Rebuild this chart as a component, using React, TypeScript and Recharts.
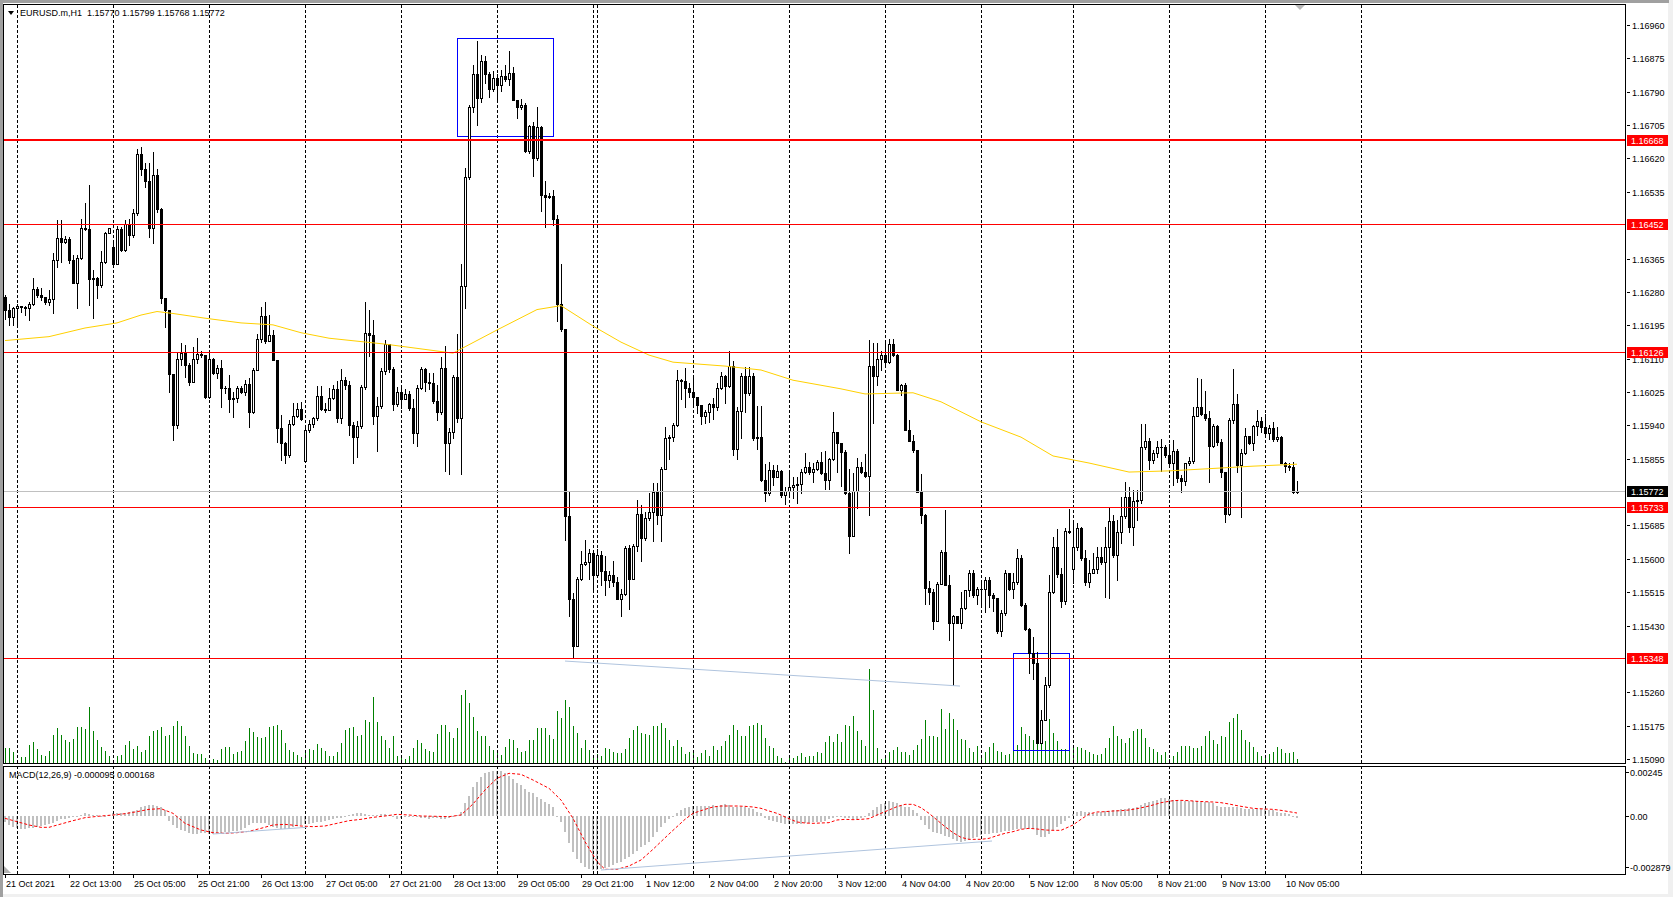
import React from 'react'
import { ComposedChart, Bar, Line, XAxis, YAxis, ReferenceLine, ReferenceArea } from 'recharts'

const FONT = "Tahoma, 'Liberation Sans', Arial, sans-serif"

// prices are kept as points above 1.15000 (1 point = 0.00001)
const BASE = 1.15
const firstOpen = 1268
const gapOpens: Record<number, number> = { 27: 1394, 75: 850, 267: 573 }

const closePts = [
  1234, 1215, 1238, 1245, 1242, 1238, 1249, 1287, 1272, 1268,
  1253, 1261, 1361, 1418, 1406, 1416, 1361, 1303, 1367, 1442,
  1440, 1314, 1315, 1298, 1357, 1429, 1442, 1350, 1439, 1387,
  1452, 1425, 1480, 1631, 1592, 1563, 1442, 1578, 1491, 1264,
  1234, 1072, 941, 1108, 1125, 1094, 1051, 1108, 1123, 1118,
  1013, 1108, 1074, 1085, 1034, 1036, 1006, 1009, 1034, 1026,
  1045, 975, 1081, 1159, 1219, 1156, 1170, 1107, 932, 896,
  864, 943, 965, 981, 955, 928, 943, 958, 1016, 981,
  979, 1009, 1032, 959, 1056, 1042, 942, 910, 938, 1037,
  1176, 1169, 964, 990, 1079, 1146, 1084, 994, 1024, 1006,
  1019, 983, 920, 1035, 1084, 1051, 1048, 1003, 975, 1086,
  894, 923, 1063, 959, 1295, 1573, 1750, 1835, 1773, 1869,
  1836, 1796, 1825, 1807, 1831, 1822, 1838, 1768, 1750, 1757,
  1640, 1703, 1622, 1701, 1526, 1523, 1525, 1466, 1248, 1186,
  708, 497, 379, 549, 588, 592, 616, 559, 609, 569,
  546, 559, 540, 497, 510, 628, 548, 632, 715, 652,
  704, 720, 769, 712, 830, 909, 911, 940, 1055, 1054,
  1034, 1026, 1011, 991, 965, 974, 994, 986, 1034, 1066,
  1040, 1091, 881, 977, 1066, 1022, 1066, 907, 911, 802,
  767, 826, 809, 824, 762, 773, 784, 788, 790, 822,
  833, 822, 828, 846, 819, 802, 853, 922, 896, 873,
  767, 659, 773, 835, 822, 812, 1091, 1066, 1108, 1119,
  1102, 1147, 1119, 1030, 1043, 928, 901, 876, 771, 711,
  525, 516, 442, 537, 618, 533, 436, 454, 437, 474,
  520, 565, 507, 522, 524, 546, 508, 499, 417, 461,
  563, 522, 540, 601, 482, 420, 359, 334, 131, 189,
  278, 516, 629, 561, 493, 672, 669, 631, 678, 601,
  542, 565, 573, 605, 593, 631, 697, 610, 669, 709,
  758, 682, 746, 750, 884, 901, 852, 869, 884, 886,
  864, 845, 875, 805, 797, 843, 849, 964, 986, 968,
  960, 887, 938, 898, 820, 714, 954, 994, 839, 869,
  913, 896, 938, 952, 935, 920, 932, 904, 911, 845,
  836, 835, 770, 772,
]

const highPts = [
  1272, 1249, 1242, 1249, 1245, 1244, 1255, 1315, 1293, 1289,
  1268, 1285, 1378, 1463, 1463, 1422, 1421, 1374, 1374, 1467,
  1506, 1552, 1336, 1319, 1383, 1433, 1444, 1404, 1449, 1446,
  1463, 1465, 1490, 1643, 1648, 1609, 1609, 1637, 1592, 1493,
  1264, 1234, 1072, 1125, 1149, 1145, 1098, 1139, 1163, 1130,
  1118, 1132, 1111, 1094, 1106, 1039, 1068, 1026, 1039, 1039,
  1056, 1060, 1085, 1174, 1241, 1253, 1221, 1183, 1107, 966,
  898, 954, 996, 998, 1000, 932, 954, 962, 1039, 1039,
  996, 1034, 1042, 1053, 1084, 1063, 1053, 949, 951, 1042,
  1253, 1235, 1209, 1011, 1086, 1157, 1148, 1089, 1037, 1042,
  1032, 1027, 1006, 1042, 1089, 1086, 1074, 1074, 1042, 1115,
  1141, 933, 1068, 1172, 1352, 1596, 1755, 1859, 1918, 1883,
  1880, 1841, 1843, 1835, 1845, 1859, 1893, 1854, 1765, 1771,
  1760, 1706, 1713, 1752, 1703, 1562, 1533, 1540, 1476, 1352,
  1186, 772, 512, 554, 621, 647, 626, 616, 626, 621,
  606, 569, 595, 554, 522, 632, 635, 637, 751, 736,
  720, 767, 792, 794, 835, 935, 915, 945, 1081, 1057,
  1085, 1049, 1064, 1013, 989, 979, 998, 1009, 1047, 1077,
  1068, 1130, 1105, 986, 1073, 1088, 1088, 1074, 989, 989,
  841, 847, 838, 838, 826, 784, 819, 809, 809, 828,
  869, 847, 843, 852, 873, 875, 856, 973, 924, 894,
  877, 830, 818, 856, 847, 867, 1157, 1149, 1149, 1130,
  1157, 1159, 1159, 1122, 1045, 1049, 953, 915, 875, 816,
  714, 544, 522, 542, 622, 724, 559, 457, 453, 516,
  520, 571, 571, 527, 546, 553, 553, 514, 499, 469,
  571, 565, 565, 624, 610, 488, 423, 400, 363, 215,
  300, 559, 656, 675, 576, 678, 726, 694, 692, 682,
  622, 597, 615, 629, 631, 682, 733, 711, 699, 758,
  796, 784, 775, 775, 943, 943, 907, 877, 901, 904,
  890, 892, 903, 881, 813, 843, 860, 987, 1060, 1057,
  1028, 977, 943, 940, 904, 822, 958, 1083, 1021, 880,
  932, 913, 942, 979, 962, 970, 941, 949, 936, 913,
  847, 845, 847, 799,
]

const lowPts = [
  1210, 1196, 1196, 1196, 1230, 1221, 1208, 1247, 1268, 1259,
  1249, 1247, 1225, 1344, 1357, 1404, 1354, 1303, 1238, 1365,
  1438, 1247, 1213, 1264, 1293, 1353, 1429, 1349, 1361, 1383,
  1383, 1400, 1421, 1476, 1578, 1548, 1421, 1405, 1484, 1251,
  1191, 1026, 903, 932, 1094, 1062, 1043, 1056, 1098, 1115,
  1009, 1009, 1072, 1060, 988, 1022, 975, 962, 1000, 1022,
  1017, 937, 971, 1081, 1153, 1149, 1157, 1107, 898, 852,
  843, 860, 941, 962, 954, 847, 924, 937, 954, 979,
  975, 983, 1006, 949, 947, 1032, 916, 843, 860, 933,
  1032, 1117, 944, 874, 985, 1072, 1076, 980, 990, 985,
  1006, 980, 895, 887, 1032, 1027, 1032, 996, 954, 970,
  824, 816, 907, 949, 816, 1238, 1568, 1739, 1705, 1765,
  1812, 1776, 1791, 1765, 1791, 1817, 1807, 1768, 1724, 1745,
  1637, 1635, 1576, 1617, 1487, 1445, 1519, 1450, 1207, 1180,
  647, 455, 346, 377, 545, 585, 548, 524, 564, 533,
  509, 528, 531, 497, 455, 507, 471, 548, 621, 595,
  649, 699, 646, 689, 646, 828, 855, 900, 938, 1007,
  988, 1011, 988, 971, 943, 945, 949, 956, 979, 1032,
  996, 1037, 864, 855, 907, 975, 1017, 903, 881, 799,
  746, 762, 788, 808, 758, 740, 758, 754, 743, 767,
  819, 815, 796, 826, 816, 779, 779, 852, 822, 785,
  765, 616, 661, 729, 818, 809, 712, 947, 1043, 1081,
  1090, 1100, 1117, 1030, 1017, 928, 901, 873, 771, 692,
  485, 485, 420, 451, 536, 533, 393, 278, 436, 423,
  471, 505, 503, 485, 482, 465, 478, 468, 410, 403,
  457, 520, 499, 537, 480, 419, 308, 295, 130, 130,
  189, 274, 514, 554, 478, 486, 667, 539, 622, 597,
  533, 527, 563, 565, 588, 503, 499, 605, 546, 639,
  703, 669, 635, 700, 743, 881, 830, 843, 860, 824,
  860, 841, 788, 796, 771, 788, 839, 843, 964, 966,
  953, 796, 886, 890, 809, 694, 712, 945, 822, 707,
  867, 892, 877, 915, 924, 918, 904, 901, 901, 843,
  822, 826, 767, 768,
]

// tick volume
const volumes = [
  920, 920, 640, 200, 360, 380, 1080, 1260, 840, 500,
  440, 740, 1700, 2120, 1680, 1380, 1240, 1460, 2180, 2180,
  2040, 3380, 1900, 1400, 940, 740, 440, 140, 440, 500,
  1100, 1340, 860, 1000, 640, 760, 1640, 1940, 1960, 2140,
  1600, 1700, 2200, 2540, 2220, 1600, 1000, 600, 560, 560,
  300, 200, 240, 160, 860, 960, 980, 560, 640, 700,
  1300, 2120, 1840, 1540, 1480, 1540, 2180, 2240, 2300, 2000,
  1180, 800, 660, 500, 380, 640, 860, 800, 1160, 900,
  700, 440, 400, 640, 1200, 2000, 2100, 2140, 1640, 1700,
  2560, 2440, 3980, 2440, 1640, 1400, 900, 1600, 400, 300,
  240, 400, 900, 1400, 1200, 840, 720, 680, 1760, 2260,
  2300, 1840, 1500, 2120, 4080, 4400, 3580, 2760, 1920, 1600,
  1600, 1000, 760, 680, 460, 960, 1460, 1400, 900, 640,
  700, 1360, 1400, 2120, 2100, 2120, 1700, 1440, 3140, 2720,
  3780, 3360, 2240, 1800, 880, 1400, 760, 440, 540, 400,
  900, 840, 680, 600, 600, 840, 1480, 1960, 2200, 1780,
  1720, 1680, 2200, 2200, 2420, 2080, 1400, 1040, 1400, 940,
  540, 640, 640, 340, 600, 760, 440, 1000, 760, 1040,
  1300, 1700, 2300, 1960, 1640, 1640, 2240, 2300, 2400, 2300,
  1500, 1000, 900, 400, 300, 40, 300, 300, 440, 600,
  340, 400, 440, 640, 600, 1240, 1600, 1240, 1760, 1240,
  2300, 2200, 2800, 1900, 1360, 1000, 5660, 3200, 900, 240,
  400, 640, 800, 960, 640, 640, 500, 800, 1100, 1460,
  2560, 1640, 1600, 1560, 3260, 2040, 3000, 2640, 1960, 1440,
  1400, 900, 640, 1000, 400, 640, 960, 1200, 700, 640,
  500, 560, 800, 1100, 2140, 1760, 1600, 1360, 3200, 2700,
  1300, 2640, 1800, 1340, 840, 840, 700, 960, 960, 900,
  760, 640, 540, 500, 560, 900, 1500, 2240, 1640, 1440,
  1200, 1500, 1900, 2040, 2040, 1500, 940, 840, 640, 500,
  640, 240, 400, 640, 1040, 1040, 1040, 900, 900, 1040,
  1600, 1900, 1400, 1160, 1600, 1560, 2440, 2700, 2960, 2000,
  1400, 1240, 940, 640, 400, 300, 560, 640, 960, 840,
  600, 600, 640, 240,
]

// MACD main line, millionths
const macdMain = [
  -319, -507, -601, -694, -732, -732, -694, -657, -601, -563,
  -507, -450, -375, -263, -188, -150, -94, -75, -38, 38,
  150, 94, 56, 38, 19, 5, 56, 150, 150, 188,
  188, 225, 282, 338, 526, 582, 619, 619, 582, 526,
  338, -263, -507, -657, -788, -845, -939, -1014, -1014, -976,
  -939, -1014, -1014, -976, -939, -882, -882, -845, -826, -788,
  -694, -507, -413, -375, -413, -413, -507, -601, -694, -732,
  -751, -713, -638, -563, -507, -469, -450, -413, -357, -319,
  -282, -225, -188, -131, -94, -38, 56, 94, 150, 188,
  113, 38, 56, 75, 94, 94, 38, -38, -150, -94,
  -38, -19, -38, -56, -94, -131, -169, -131, -94, -150,
  -188, -131, -38, 56, 244, 713, 1145, 1652, 1896, 2215,
  2403, 2496, 2534, 2553, 2534, 2440, 2271, 2083, 1877, 1746,
  1502, 1370, 1276, 1089, 939, 807, 676, 526, 19, -319,
  -882, -1539, -2008, -2440, -2665, -2853, -3003, -3041, -3041, -3003,
  -2947, -2891, -2759, -2665, -2571, -2440, -2290, -2140, -1952, -1764,
  -1633, -1445, -1164, -882, -601, -375, -188, 10, 150, 338,
  469, 526, 563, 582, 582, 563, 563, 601, 563, 619,
  676, 619, 526, 526, 526, 488, 432, 394, 244, 150,
  -131, -225, -263, -319, -375, -450, -450, -469, -450, -450,
  -413, -375, -357, -319, -319, -263, -188, -131, -75, -75,
  -131, -131, -169, -169, -131, -38, 188, 338, 526, 657,
  751, 845, 807, 751, 619, 526, 488, 338, 150, -225,
  -507, -751, -882, -976, -1032, -1107, -1201, -1314, -1408, -1445,
  -1408, -1351, -1258, -1164, -1070, -1014, -1014, -976, -939, -882,
  -845, -826, -788, -751, -732, -713, -732, -751, -1070, -1164,
  -1164, -1014, -788, -601, -450, -282, -131, 94, 244, 282,
  244, 244, 188, 188, 244, 282, 300, 338, 338, 394,
  394, 432, 469, 526, 619, 713, 807, 863, 901, 995,
  1032, 939, 901, 845, 845, 863, 845, 845, 845, 807,
  770, 770, 713, 582, 526, 526, 488, 526, 488, 432,
  394, 394, 394, 394, 375, 375, 338, 338, 244, 188,
  150, 113, -38, -95,
]

// MACD signal line read at [bar, millionths]
const signalPts: [number, number][] = [
  [0, -131], [3, -319], [6, -507], [9, -638], [11, -638], [14, -450], [17, -263], [20, -94],
  [24, 0], [27, 56], [30, 131], [33, 244], [36, 375], [39, 413], [42, 150], [45, -413],
  [49, -788], [52, -939], [55, -976], [58, -939], [61, -863], [64, -694], [67, -507], [70, -469],
  [74, -563], [77, -601], [80, -563], [83, -413], [86, -263], [89, -188], [92, -75], [95, 0],
  [98, 94], [101, 56], [104, 0], [108, -19], [111, -38], [114, 56], [117, 676], [120, 1464],
  [123, 2121], [126, 2403], [129, 2346], [132, 2027], [136, 1558], [139, 901], [142, -131], [145, -1445],
  [148, -2571], [150, -3003], [153, -3003], [156, -2816], [159, -2478], [162, -1877], [164, -1445], [166, -1014],
  [168, -601], [170, -188], [172, 150], [175, 375], [177, 507], [179, 563], [181, 563], [183, 563],
  [185, 544], [187, 507], [189, 432], [191, 282], [193, 150], [196, -150], [198, -338], [200, -394],
  [202, -413], [204, -394], [206, -375], [208, -225], [210, -188], [212, -206], [214, -188], [216, -150],
  [218, 56], [221, 338], [223, 526], [225, 657], [227, 657], [229, 469], [231, 150], [233, -225],
  [235, -601], [237, -939], [239, -1201], [241, -1314], [244, -1314], [246, -1258], [248, -1107], [250, -976],
  [252, -882], [254, -751], [256, -694], [258, -732], [260, -788], [262, -807], [264, -807], [267, -507],
  [269, -188], [271, 113], [273, 225], [275, 244], [277, 282], [279, 300], [281, 338], [283, 413],
  [285, 507], [287, 619], [289, 751], [292, 863], [294, 882], [296, 863], [298, 826], [300, 807],
  [302, 788], [304, 751], [306, 676], [308, 582], [310, 507], [312, 432], [315, 394], [317, 375],
  [319, 319], [321, 244], [323, 168],
]

// moving average read at [bar, points]
const maPts: [number, number][] = [
  [0, 1156], [11, 1166], [20, 1188], [28, 1201], [34, 1221], [38, 1230], [42, 1225], [50, 1213],
  [59, 1201], [67, 1196], [74, 1176], [81, 1162], [95, 1147], [112, 1124], [123, 1183], [133, 1235],
  [139, 1245], [147, 1193], [154, 1152], [161, 1119], [167, 1101], [180, 1091], [189, 1081], [197, 1055],
  [209, 1033], [215, 1020], [227, 1023], [234, 1000], [244, 949], [254, 910], [262, 862], [271, 844],
  [281, 821], [291, 824], [300, 829], [312, 836], [323, 841],
]

const timeLabels: [number, string][] = [
  [0, '21 Oct 2021'], [16, '22 Oct 13:00'], [32, '25 Oct 05:00'], [48, '25 Oct 21:00'],
  [64, '26 Oct 13:00'], [80, '27 Oct 05:00'], [96, '27 Oct 21:00'], [112, '28 Oct 13:00'],
  [128, '29 Oct 05:00'], [144, '29 Oct 21:00'], [160, '1 Nov 12:00'], [176, '2 Nov 04:00'],
  [192, '2 Nov 20:00'], [208, '3 Nov 12:00'], [224, '4 Nov 04:00'], [240, '4 Nov 20:00'],
  [256, '5 Nov 12:00'], [272, '8 Nov 05:00'], [288, '8 Nov 21:00'], [304, '9 Nov 13:00'],
  [320, '10 Nov 05:00'],
]

const daySeparators = [3, 27, 51, 75, 99, 123, 147, 148, 172, 196, 220, 244, 267, 291, 315, 339]

const priceTicks = [
  1.1696, 1.16875, 1.1679, 1.16705, 1.1662, 1.16535, 1.1645, 1.16365, 1.1628, 1.16195, 1.1611, 1.16025,
  1.1594, 1.15855, 1.1577, 1.15685, 1.156, 1.15515, 1.1543, 1.15345, 1.1526, 1.15175, 1.1509,
]
const levels = [1.16668, 1.16452, 1.16126, 1.15733, 1.15348]
const bidPrice = 1.15772
const macdTicks: [number, string][] = [[0.00245, '0.00245'], [0, '0.00'], [-0.002879, '-0.002879']]

const X_DOMAIN: [number, number] = [-0.5, 405]
const PRICE_DOMAIN: [number, number] = [1.1507975, 1.170135]
const VOL_DOMAIN: [number, number] = [0, 45540]
const MACD_DOMAIN: [number, number] = [-0.003266, 0.0028155]

const toPrice = (pts: number) => BASE + pts / 100000

const maMap = new Map(maPts)
const sigMap = new Map(signalPts)
const rows = closePts.map((c, i) => {
  const o = i === 0 ? firstOpen : gapOpens[i] ?? closePts[i - 1]
  return {
    i,
    open: toPrice(o),
    close: toPrice(c),
    high: toPrice(Math.max(highPts[i], o, c)),
    low: toPrice(Math.min(lowPts[i], o, c)),
    vol: volumes[i],
    macd: macdMain[i] / 1e6,
    signal: sigMap.has(i) ? (sigMap.get(i) as number) / 1e6 : null,
    ma: maMap.has(i) ? toPrice(maMap.get(i) as number) : null,
  }
})
const labelMap = new Map(timeLabels)

const snapX = (x: number, width: number) => Math.round(x + width / 2 + 0.25)

function Candle(props: any) {
  const { x, y, width, height, payload } = props
  if (x == null || !payload) return null
  const cx = snapX(x, width)
  const { open, close, high, low } = payload
  const k = high > low ? height / (high - low) : 0
  const yO = Math.round(y + (high - open) * k)
  const yC = Math.round(y + (high - close) * k)
  const top = Math.min(yO, yC)
  const bot = Math.max(yO, yC)
  const up = close >= open
  return (
    <g>
      <line x1={cx + 0.5} x2={cx + 0.5} y1={Math.round(y)} y2={Math.round(y + height) + 1} stroke="#000" />
      {bot === top ? (
        <line x1={cx - 1} x2={cx + 2} y1={top + 0.5} y2={top + 0.5} stroke="#000" />
      ) : up ? (
        <rect x={cx - 0.5} y={top + 0.5} width={2} height={bot - top} fill="#fff" stroke="#000" />
      ) : (
        <rect x={cx - 1} y={top} width={3} height={bot - top + 1} fill="#000" />
      )}
    </g>
  )
}

function VolBar(props: any) {
  const { x, y, width, height } = props
  if (x == null) return null
  const cx = snapX(x, width)
  const t = Math.round(y)
  const b = Math.round(y + height)
  return <rect x={cx} y={t} width={1} height={Math.max(b - t, 0)} fill="#008000" />
}

function MacdBar(props: any) {
  const { x, y, width, height } = props
  if (x == null) return null
  const cx = snapX(x, width)
  const t = Math.round(Math.min(y, y + height))
  let b = Math.round(Math.max(y, y + height))
  if (b - t < 1) b = t + 1
  return <rect x={cx - 1} y={t} width={2} height={b - t} fill="#c0c0c0" />
}

const gridLine = (p: any) => {
  const xx = Math.round(p.x1) + 0.5
  return <line x1={xx} x2={xx} y1={p.y1} y2={p.y2} stroke="#000" strokeDasharray="3 2" />
}

const hLine = (color: string, w: number) => (p: any) => {
  const yy = w === 2 ? Math.round(p.y1) : Math.round(p.y1) + 0.5
  return <line x1={p.x1} x2={p.x2} y1={yy} y2={yy} stroke={color} strokeWidth={w} />
}

const boxShape = (p: any) => (
  <rect
    x={Math.round(p.x) + 0.5}
    y={Math.round(p.y) + 0.5}
    width={Math.round(p.width)}
    height={Math.round(p.height)}
    fill="none"
    stroke="#0000ff"
  />
)

function PriceTick(props: any) {
  const { x, y, payload } = props
  const v = payload.value as number
  const yy = Math.round(y)
  const isLevel = levels.some((l) => Math.abs(l - v) < 1e-8)
  const isBid = Math.abs(v - bidPrice) < 1e-8
  if (isLevel || isBid) {
    return (
      <g>
        <rect x={x + 2} y={yy - 5} width={41} height={11} fill={isBid ? '#000' : '#ff0000'} />
        <text x={x + 6} y={yy + 3.5} fontSize={9} fontFamily={FONT} fill="#fff">
          {v.toFixed(5)}
        </text>
      </g>
    )
  }
  return (
    <g>
      <line x1={x + 2} x2={x + 5} y1={yy + 0.5} y2={yy + 0.5} stroke="#000" />
      <text x={x + 7} y={yy + 3.5} fontSize={9} fontFamily={FONT} fill="#000">
        {v.toFixed(5)}
      </text>
    </g>
  )
}

function MacdTick(props: any) {
  const { x, y, payload } = props
  const item = macdTicks.find((t) => Math.abs(t[0] - payload.value) < 1e-9)
  const yy = Math.round(y)
  return (
    <g>
      <line x1={x + 1} x2={x + 4} y1={yy + 0.5} y2={yy + 0.5} stroke="#000" />
      <text x={x + 5} y={yy + 3.5} fontSize={9} fontFamily={FONT} fill="#000">
        {item ? item[1] : ''}
      </text>
    </g>
  )
}

function TimeTick(props: any) {
  const { x, y, payload } = props
  const cx = Math.round(x)
  return (
    <g>
      <line x1={cx + 0.5} x2={cx + 0.5} y1={y} y2={y + 4} stroke="#000" />
      <text x={cx + 1} y={y + 13} fontSize={9} fontFamily={FONT} fill="#000">
        {labelMap.get(payload.value)}
      </text>
    </g>
  )
}

const W = 1673
const MAIN_MARGIN = { top: 4, right: 0, bottom: 0, left: 3 }
// the volume layer has no visible price axis, so it keeps the same 48px on the right as margin
const VOL_MARGIN = { top: 4, right: 48, bottom: 0, left: 3 }

function VolumeLayer() {
  return (
    <ComposedChart width={W} height={763} data={rows} margin={VOL_MARGIN}>
      <XAxis type="number" dataKey="i" domain={X_DOMAIN} allowDataOverflow hide />
      <YAxis domain={VOL_DOMAIN} allowDataOverflow hide />
      {daySeparators.map((d) => (
        <ReferenceLine key={d} x={d} shape={gridLine} />
      ))}
      <Bar dataKey="vol" barSize={1} shape={<VolBar />} isAnimationActive={false} />
    </ComposedChart>
  )
}

function PriceLayer() {
  return (
    <ComposedChart width={W} height={763} data={rows} margin={MAIN_MARGIN}>
      <XAxis type="number" dataKey="i" domain={X_DOMAIN} allowDataOverflow hide />
      <YAxis
        orientation="right"
        width={48}
        domain={PRICE_DOMAIN}
        allowDataOverflow
        ticks={[...priceTicks, ...levels, bidPrice]}
        interval={0}
        tick={PriceTick}
        tickLine={false}
        axisLine={false}
        tickSize={0}
        tickMargin={0}
      />
      <Line
        dataKey="ma"
        stroke="#ffd000"
        strokeWidth={1}
        dot={false}
        connectNulls
        isAnimationActive={false}
      />
      <Bar dataKey={(d: any) => [d.low, d.high]} barSize={3} shape={<Candle />} isAnimationActive={false} />
      <ReferenceLine y={bidPrice} shape={hLine('#c0c0c0', 1)} />
      {levels.map((l, k) => (
        <ReferenceLine key={l} y={l} shape={hLine('#ff0000', k === 0 ? 2 : 1)} />
      ))}
      <ReferenceLine
        segment={[
          { x: 140, y: 1.153395 },
          { x: 238.75, y: 1.152758 },
        ]}
        stroke="#b0c4de"
      />
      <ReferenceArea x1={113} x2={137} y1={1.166773} y2={1.169264} shape={boxShape} />
      <ReferenceArea x1={252} x2={266} y1={1.151138} y2={1.1536} shape={boxShape} />
    </ComposedChart>
  )
}

function MacdLayer() {
  return (
    <ComposedChart width={W} height={137} data={rows} margin={{ top: 6, right: 0, bottom: 3, left: 3 }}>
      <XAxis
        type="number"
        dataKey="i"
        domain={X_DOMAIN}
        allowDataOverflow
        ticks={timeLabels.map((t) => t[0])}
        interval={0}
        tick={TimeTick}
        tickLine={false}
        axisLine={false}
        tickSize={0}
        tickMargin={0}
        height={20}
      />
      <YAxis
        orientation="right"
        width={48}
        domain={MACD_DOMAIN}
        allowDataOverflow
        ticks={macdTicks.map((t) => t[0])}
        interval={0}
        tick={MacdTick}
        tickLine={false}
        axisLine={false}
        tickSize={0}
        tickMargin={0}
      />
      {daySeparators.map((d) => (
        <ReferenceLine key={d} x={d} shape={gridLine} />
      ))}
      <Bar dataKey="macd" barSize={2} shape={<MacdBar />} isAnimationActive={false} />
      <Line
        dataKey="signal"
        stroke="#ff0000"
        strokeWidth={1}
        strokeDasharray="3 2"
        dot={false}
        connectNulls
        isAnimationActive={false}
      />
      <ReferenceLine
        segment={[
          { x: 149, y: -0.003041 },
          { x: 246.75, y: -0.001408 },
        ]}
        stroke="#b0c4de"
      />
      <ReferenceLine
        segment={[
          { x: 52, y: -0.001014 },
          { x: 75.5, y: -0.000636 },
        ]}
        stroke="#b0c4de"
      />
    </ComposedChart>
  )
}

export default function App() {
  const abs: React.CSSProperties = { position: 'absolute', left: 0, top: 0 }
  return (
    <div style={{ position: 'relative', width: W, height: 897, background: '#f0f0f0', overflow: 'hidden' }}>
      <style>{'body{margin:0}'}</style>
      <div style={{ position: 'absolute', left: 0, top: 0, width: 3, height: 897, background: '#a0a0a0' }} />
      <div style={{ position: 'absolute', left: 0, top: 0, width: 1669, height: 3, background: '#a0a0a0' }} />
      <div style={{ position: 'absolute', left: 3, top: 3, width: 1665, height: 891, background: '#fff' }} />
      <div style={abs}>
        <VolumeLayer />
      </div>
      <div style={abs}>
        <PriceLayer />
      </div>
      <div style={{ ...abs, top: 760 }}>
        <MacdLayer />
      </div>
      <svg width={W} height={897} style={{ ...abs, pointerEvents: 'none' }}>
        <rect x={3.5} y={4.5} width={1622} height={759} fill="none" stroke="#000" />
        <rect x={3.5} y={766.5} width={1622} height={108} fill="none" stroke="#000" />
        <polygon points="8,11 14,11 11,15" fill="#000" />
        <text x={20} y={16} fontSize={9} fontFamily={FONT} fill="#000" style={{ whiteSpace: 'pre' }}>
          {'EURUSD.m,H1  1.15770 1.15799 1.15768 1.15772'}
        </text>
        <text x={9} y={778} fontSize={9} fontFamily={FONT} fill="#000">
          MACD(12,26,9) -0.000095 0.000168
        </text>
        <polygon points="1295,5 1305,5 1300,10" fill="#b8b8b8" />
        <polygon points="4,866 4,873 11,873" fill="#b0b0b0" />
      </svg>
    </div>
  )
}
